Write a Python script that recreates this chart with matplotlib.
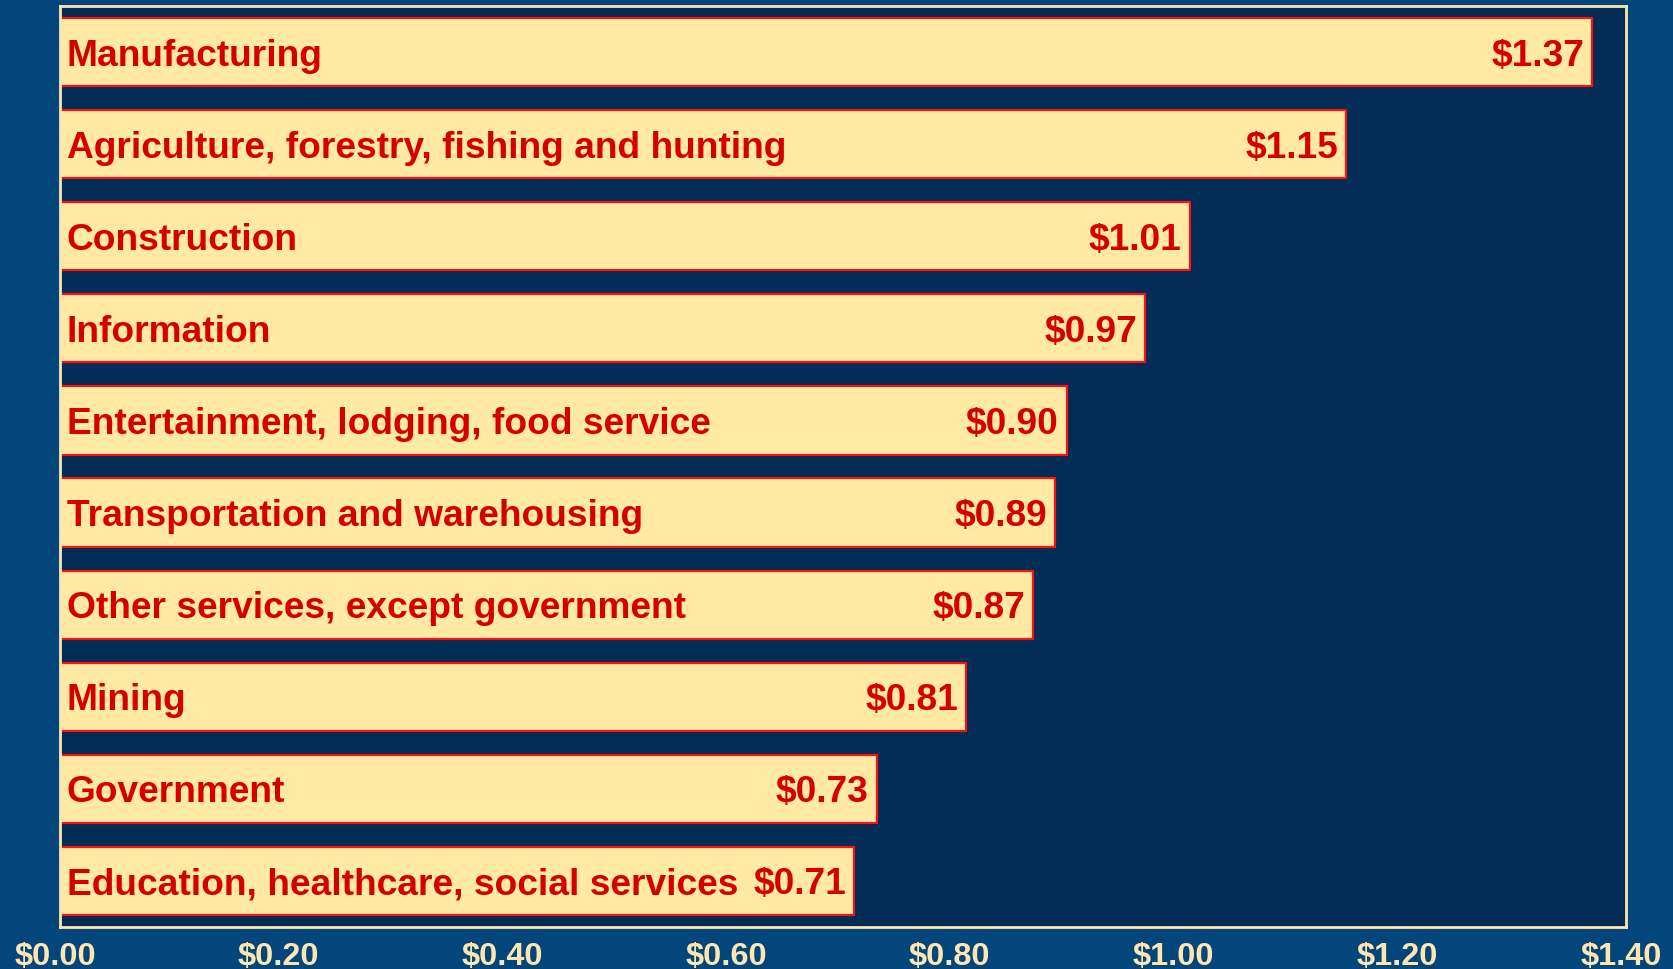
import numpy as np
import matplotlib.pyplot as plt
import matplotlib.transforms as mtransforms

# Output per dollar, by industry
industries = [
    "Manufacturing",
    "Agriculture, forestry, fishing and hunting",
    "Construction",
    "Information",
    "Entertainment, lodging, food service",
    "Transportation and warehousing",
    "Other services, except government",
    "Mining",
    "Government",
    "Education, healthcare, social services",
]
values = [1.37, 1.15, 1.01, 0.97, 0.90, 0.89, 0.87, 0.81, 0.73, 0.71]
xticks = [0.0, 0.2, 0.4, 0.6, 0.8, 1.0, 1.2, 1.4]

outer_bg = "#02467c"
inner_bg = "#002c55"
bar_fill = "#ffe9a3"
red_text = "#d40000"
red_edge = "#ff1010"
cream = "#ffe6b0"

plt.rcParams["font.family"] = ["Liberation Sans", "DejaVu Sans"]

fig = plt.figure(figsize=(16.74, 9.70), dpi=100, facecolor=outer_bg)
ax = fig.add_axes([0.0358, 0.0433, 0.9355, 0.9495], facecolor=inner_bg)

y = np.arange(len(industries))
ax.barh(y, values, height=0.74, color=bar_fill, edgecolor=red_edge, linewidth=1.6)

for yi, name, v in zip(y, industries, values):
    ax.annotate(name, xy=(0, yi), xytext=(7, -3), textcoords="offset pixels",
                ha="left", va="center", fontsize=26.7, fontweight="bold", color=red_text)
    ax.annotate(f"${v:.2f}", xy=(v, yi), xytext=(-8, -3), textcoords="offset pixels",
                ha="right", va="center", fontsize=26.7, fontweight="bold", color=red_text)

ax.set_xlim(0, 1.4)
ax.set_ylim(len(industries) - 0.5, -0.5)
ax.set_yticks([])
ax.set_xticks(xticks)
ax.set_xticklabels([f"${t:.2f}" for t in xticks], fontsize=23.4, fontweight="bold", color=cream)
ax.tick_params(axis="x", length=0, pad=10)

# labels sit a touch left of their ticks in the original
shift = mtransforms.ScaledTranslation(-5 / 100, 0, fig.dpi_scale_trans)
for lab in ax.get_xticklabels():
    lab.set_transform(lab.get_transform() + shift)

for s in ax.spines.values():
    s.set_color(cream)
    s.set_linewidth(2)

fig.savefig("out.png", dpi=100, facecolor=outer_bg)
